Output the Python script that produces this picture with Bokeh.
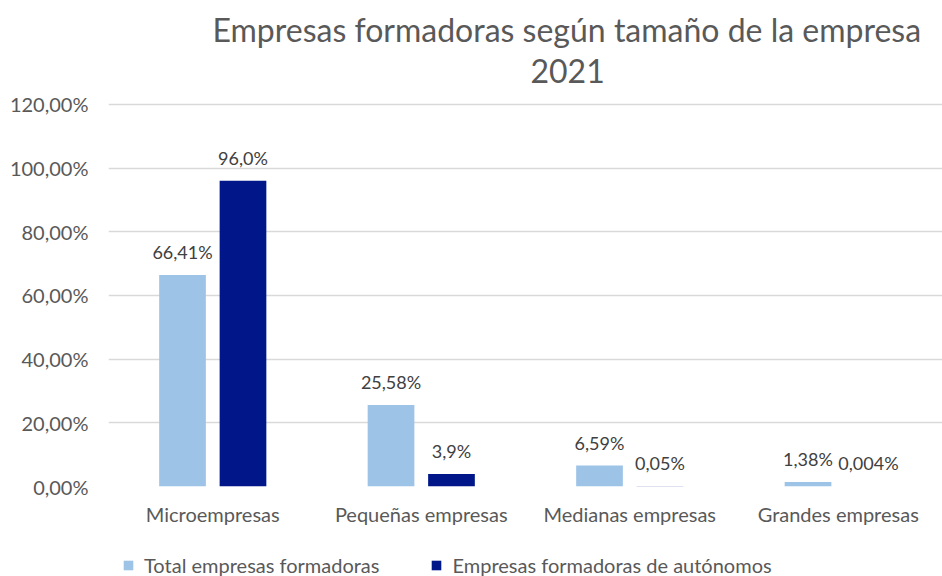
from bokeh.plotting import figure
from bokeh.layouts import column
from bokeh.models import (FactorRange, Range1d, ColumnDataSource, LabelSet, Title,
                          Legend, LegendItem, FixedTicker)
from bokeh.transform import dodge
from bokeh.core.properties import value
from bokeh.embed import file_html
from bokeh.resources import INLINE

categories = ["Microempresas", "Pequeñas empresas", "Medianas empresas", "Grandes empresas"]
total = [66.41, 25.58, 6.59, 1.38]
autonomos = [96.0, 3.9, 0.05, 0.004]
total_labels = ["66,41%", "25,58%", "6,59%", "1,38%"]
auto_labels = ["96,0%", "3,9%", "0,05%", "0,004%"]
y_ticks = [0, 20, 40, 60, 80, 100, 120]
series_names = ["Total empresas formadoras", "Empresas formadoras de autónomos"]
title_lines = ["Empresas formadoras según tamaño de la empresa", "2021"]

LIGHT = "#9DC3E6"
DARK = "#001689"
FONT = "Lato"
FS = "20px"

src = ColumnDataSource(dict(cat=categories, total=total, auto=autonomos,
                            tl=total_labels, al=auto_labels))

p = figure(x_range=FactorRange(*categories), y_range=Range1d(0, 125),
           width=942, height=546, output_backend="svg", toolbar_location=None,
           min_border_left=108, min_border_right=0, min_border_top=88,
           min_border_bottom=60)
p.outline_line_color = None
p.background_fill_color = "white"
p.border_fill_color = "white"

w = 0.224
off = 0.145
r1 = p.vbar(x=dodge("cat", -off, range=p.x_range), top="total", width=w, source=src,
            fill_color=LIGHT, line_color=None)
r2 = p.vbar(x=dodge("cat", off, range=p.x_range), top="auto", width=w, source=src,
            fill_color=DARK, line_color=None)

for col, lab, dx in (("total", "tl", -off), ("auto", "al", off)):
    ls = LabelSet(x=dodge("cat", dx, range=p.x_range), y=col, text=lab, source=src,
                  text_align="center", text_baseline="middle", y_offset=23,
                  text_font=value(FONT), text_font_size="18px", text_color="#404040")
    p.add_layout(ls)

# axes
p.yaxis.ticker = FixedTicker(ticks=y_ticks)
p.yaxis.major_label_overrides = {t: f"{t:.2f}".replace(".", ",") + "%" for t in y_ticks}
p.yaxis.axis_line_color = None
p.yaxis.major_tick_line_color = None
p.yaxis.minor_tick_line_color = None
p.yaxis.major_label_text_font = FONT
p.yaxis.major_label_text_font_size = FS
p.yaxis.major_label_text_color = "#595959"
p.yaxis.major_label_standoff = 14

p.xaxis.axis_line_color = None
p.xaxis.major_tick_line_color = None
p.xaxis.major_label_text_font = FONT
p.xaxis.major_label_text_font_size = FS
p.xaxis.major_label_text_color = "#595959"
p.xaxis.major_label_standoff = 9

p.xgrid.grid_line_color = None
p.ygrid.grid_line_color = "#D9D9D9"
p.ygrid.grid_line_width = 1.5

# title (two lines)
p.add_layout(Title(text=title_lines[1], align="left", offset=422, standoff=12,
                   text_font=FONT, text_font_size="32px", text_font_style="normal",
                   text_color="#595959"), "above")
p.add_layout(Title(text=title_lines[0], align="left", offset=104, standoff=4,
                   text_font=FONT, text_font_size="32px", text_font_style="normal",
                   text_color="#595959"), "above")

# legend strip below the chart (its bars fall outside its y range, only the legend shows)
lf = figure(width=942, height=30, x_range=p.x_range, y_range=Range1d(1000, 1001),
            output_backend="svg", toolbar_location=None, x_axis_type=None,
            y_axis_type=None, min_border=0)
lf.outline_line_color = None
lf.xgrid.grid_line_color = None
lf.ygrid.grid_line_color = None
g1 = lf.vbar(x="cat", top="total", width=w, source=src, fill_color=LIGHT, line_color=None)
g2 = lf.vbar(x="cat", top="auto", width=w, source=src, fill_color=DARK, line_color=None)
legend = Legend(items=[LegendItem(label=series_names[0], renderers=[g1]),
                       LegendItem(label=series_names[1], renderers=[g2])],
                orientation="horizontal", location=(14, -1), padding=0, margin=0,
                spacing=51, glyph_width=12, glyph_height=12, label_standoff=10,
                label_text_font=FONT, label_text_font_size=FS,
                label_text_color="#595959", background_fill_alpha=0,
                border_line_color=None)
lf.add_layout(legend, "center")

open("out.html", "w").write(file_html(column(p, lf, spacing=0), INLINE))
